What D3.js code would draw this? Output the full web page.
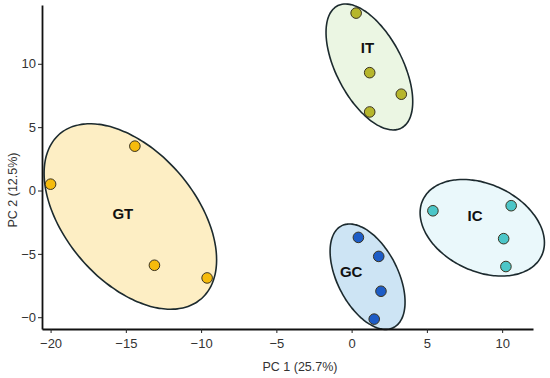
<!DOCTYPE html>
<html>
<head>
<meta charset="utf-8">
<script src="https://cdn.jsdelivr.net/npm/d3@7"></script>
<style>
  body { margin: 0; background: #fff; }
  text { font-family: "Liberation Sans", Arial, sans-serif; }
</style>
</head>
<body>
<div id="chart"></div>
<script>
// groups and their scores on PC1 / PC2
var groups = ["GT", "IT", "GC", "IC"];
var gtPoints = [[-20.0, 0.5], [-14.4, 3.5], [-13.1, -5.9], [-9.6, -6.9]];
var itPoints = [[0.3, 14.0], [1.2, 9.3], [3.3, 7.6], [1.2, 6.2]];
var gcPoints = [[0.45, -3.7], [1.8, -5.2], [1.95, -7.95], [1.5, -10.15]];
var icPoints = [[5.4, -1.6], [10.6, -1.2], [10.1, -3.8], [10.25, -6.0]];

// ellipse per group: centre x, centre y, sd x, sd y, correlation
var gtEllipse = [-14.7, -2.05, 5.73, 7.32, -0.467];
var itEllipse = [1.18, 9.75, 2.88, 4.97, -0.55];
var gcEllipse = [1.06, -6.8, 2.49, 4.16, -0.48];
var icEllipse = [8.68, -2.94, 4.13, 3.81, -0.31];

// where the group names sit
var labelPos = [[-15.2, -1.85], [1.05, 11.3], [-0.03, -6.4], [8.2, -1.95]];

var xTicks = [-20, -15, -10, -5, 0, 5, 10];
var yTicks = [-10, -5, 0, 5, 10];
var yTickLabels = ["\u22120", "\u22125", "0", "5", "10"];

var fills = ["#fdeec4", "#ebf6e3", "#cde4f4", "#eaf8fb"];
var dotFills = ["#f6bb0c", "#b6b62c", "#1d5cc6", "#4cc6c8"];

var width = 550, height = 378;
var margin = {top: 5, right: 17, bottom: 49, left: 42};

var svg = d3.select("#chart").append("svg")
    .attr("width", width)
    .attr("height", height);

var x = d3.scaleLinear().domain([-20.57, 12.05]).range([margin.left, width - margin.right]);
var y = d3.scaleLinear().domain([-10.93, 14.64]).range([height - margin.bottom, margin.top]);

var pointSets = [gtPoints, itPoints, gcPoints, icPoints];
var ellipses = [gtEllipse, itEllipse, gcEllipse, icEllipse];

// ellipse outline sampled in data space
function ellipsePath(e) {
    var pts = d3.range(0, 361, 3).map(function(a) {
        var t = a * Math.PI / 180;
        var px = e[0] + e[2] * Math.cos(t);
        var py = e[1] + e[3] * (e[4] * Math.cos(t) + Math.sqrt(1 - e[4] * e[4]) * Math.sin(t));
        return [x(px), y(py)];
    });
    return d3.line().curve(d3.curveCardinalClosed)(pts);
}

var g = svg.append("g");

g.selectAll("path.ell")
    .data(ellipses)
    .enter().append("path")
    .attr("class", "ell")
    .attr("d", ellipsePath)
    .attr("fill", function(d, i) { return fills[i]; })
    .attr("stroke", "#1c2a2e")
    .attr("stroke-width", 1.6);

pointSets.forEach(function(pts, i) {
    g.selectAll("circle.g" + i)
        .data(pts)
        .enter().append("circle")
        .attr("class", "g" + i)
        .attr("cx", function(d) { return x(d[0]); })
        .attr("cy", function(d) { return y(d[1]); })
        .attr("r", 5.3)
        .attr("fill", dotFills[i])
        .attr("stroke", "#3a3320")
        .attr("stroke-width", 1);
});

g.selectAll("text.grp")
    .data(groups)
    .enter().append("text")
    .attr("class", "grp")
    .attr("x", function(d, i) { return x(labelPos[i][0]); })
    .attr("y", function(d, i) { return y(labelPos[i][1]); })
    .attr("dy", "0.36em")
    .attr("text-anchor", "middle")
    .attr("font-size", 15)
    .attr("font-weight", "bold")
    .attr("fill", "#111")
    .text(function(d) { return d; });

// axes
var xAxis = d3.axisBottom(x).tickValues(xTicks).tickSize(4).tickSizeOuter(0)
    .tickFormat(function(d) { return d < 0 ? "\u2212" + Math.abs(d) : d; });
var yAxis = d3.axisLeft(y).tickValues(yTicks).tickSize(4).tickSizeOuter(0)
    .tickFormat(function(d, i) { return yTickLabels[i]; });

var xg = svg.append("g")
    .attr("transform", "translate(0," + (height - margin.bottom) + ")")
    .call(xAxis);
var yg = svg.append("g")
    .attr("transform", "translate(" + margin.left + ",0)")
    .call(yAxis);

[xg, yg].forEach(function(a) {
    a.select(".domain").attr("stroke", "#111").attr("stroke-width", 1.8);
    a.selectAll(".tick line").attr("stroke", "#222").attr("stroke-width", 1);
    a.selectAll(".tick text")
        .attr("font-family", "Liberation Sans, Arial, sans-serif")
        .attr("font-size", 13)
        .attr("fill", "#333");
});
xg.selectAll(".tick text").attr("dy", "0.95em");
yg.selectAll(".tick text").attr("x", -6);

svg.append("text")
    .attr("x", 300)
    .attr("y", 371)
    .attr("text-anchor", "middle")
    .attr("font-size", 12.5)
    .attr("fill", "#333")
    .text("PC 1 (25.7%)");

svg.append("text")
    .attr("transform", "translate(17,190) rotate(-90)")
    .attr("text-anchor", "middle")
    .attr("font-size", 12.5)
    .attr("fill", "#333")
    .text("PC 2 (12.5%)");
</script>
</body>
</html>
